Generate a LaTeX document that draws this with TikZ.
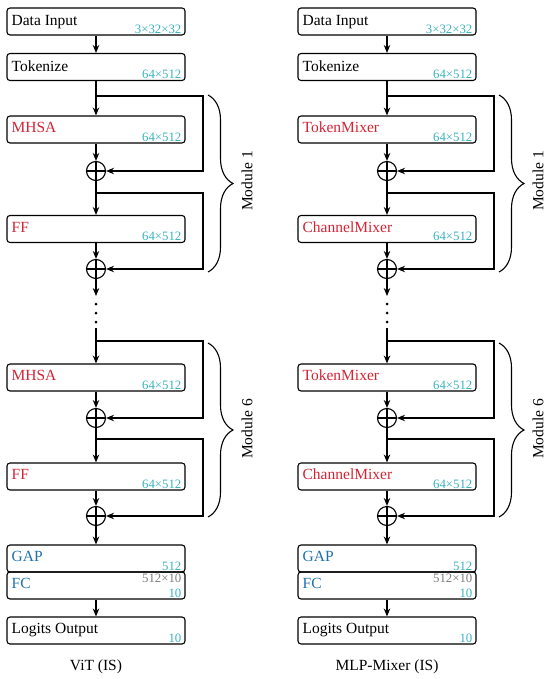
\documentclass[tikz,border=0pt]{standalone}
\usepackage{fontspec}
\setmainfont{Liberation Serif}
\usetikzlibrary{arrows.meta,decorations.pathreplacing,calc}
\definecolor{mred}{RGB}{212,36,52}
\definecolor{mblue}{RGB}{30,112,172}
\definecolor{mcyan}{RGB}{58,178,192}
\definecolor{mgray}{RGB}{125,125,125}
\tikzset{
  blk/.style={draw, line width=1.1pt, rounded corners=3pt, minimum width=178pt, minimum height=27pt, inner sep=0pt},
  nm/.style={anchor=base west, inner sep=0pt, font=\fontsize{15.5}{18}\selectfont},
  dm/.style={anchor=base east, inner sep=0pt, font=\fontsize{12.8}{14}\selectfont, text=mcyan},
  arr/.style={line width=1.1pt, -{Stealth[length=8pt,width=6.5pt]}},
  ln/.style={line width=1.1pt},
  sumn/.style={circle, draw, line width=1.1pt, minimum size=19pt, inner sep=0pt,
    path picture={\draw[line width=1.1pt] (path picture bounding box.north) -- (path picture bounding box.south)
      (path picture bounding box.west) -- (path picture bounding box.east);}},
  dotn/.style={circle, fill, minimum size=3pt, inner sep=0pt},
  brc/.style={line width=1.1pt, decorate, decoration={brace, amplitude=25pt, aspect=0.5}},
  modl/.style={rotate=90, inner sep=0pt, font=\fontsize{15.5}{18}\selectfont},
  capn/.style={inner sep=0pt, font=\fontsize{15.5}{18}\selectfont}
}
\newcommand\archcol[5]{%
\begin{scope}[xshift=#1pt]
  % boxes
  \node[blk] (#2in) at (96,21.5) {};
  \node[nm] (#2inN) at ([shift={(5,18.5)}]#2in.north west) {Data Input};
  \node[dm] (#2inD) at ([shift={(-4,-2.5)}]#2in.south east) {3×32×32};
  \node[blk] (#2tok) at (96,67) {};
  \node[nm] (#2tokN) at ([shift={(5,18.5)}]#2tok.north west) {Tokenize};
  \node[dm] (#2tokD) at ([shift={(-4,-2.5)}]#2tok.south east) {64×512};
  \node[blk] (#2ma) at (96,129.5) {};
  \node[nm, text=mred] (#2maN) at ([shift={(5,17.5)}]#2ma.north west) {#3};
  \node[dm] (#2maD) at ([shift={(-4,-2.5)}]#2ma.south east) {64×512};
  \node[sumn] (#2pa) at (96,171) {};
  \node[blk] (#2mb) at (96,229) {};
  \node[nm, text=mred] (#2mbN) at ([shift={(5,17.5)}]#2mb.north west) {#4};
  \node[dm] (#2mbD) at ([shift={(-4,-2.5)}]#2mb.south east) {64×512};
  \node[sumn] (#2pb) at (96,269) {};
  \node[dotn] (#2dA) at (96,304) {};
  \node[dotn] (#2dB) at (96,313) {};
  \node[dotn] (#2dC) at (96,322) {};
  \node[blk] (#2mc) at (96,377.5) {};
  \node[nm, text=mred] (#2mcN) at ([shift={(5,17.5)}]#2mc.north west) {#3};
  \node[dm] (#2mcD) at ([shift={(-4,-2.5)}]#2mc.south east) {64×512};
  \node[sumn] (#2pc) at (96,418) {};
  \node[blk] (#2md) at (96,476.5) {};
  \node[nm, text=mred] (#2mdN) at ([shift={(5,17.5)}]#2md.north west) {#4};
  \node[dm] (#2mdD) at ([shift={(-4,-2.5)}]#2md.south east) {64×512};
  \node[sumn] (#2pd) at (96,516) {};
  \node[blk] (#2gap) at (96,558.5) {};
  \node[nm, text=mblue] (#2gapN) at ([shift={(5,17)}]#2gap.north west) {GAP};
  \node[dm] (#2gapD) at ([shift={(-4,-2.5)}]#2gap.south east) {512};
  \node[blk] (#2fc) at (96,585.5) {};
  \node[nm, text=mblue] (#2fcN) at ([shift={(5,17)}]#2fc.north west) {FC};
  \node[dm, text=mgray] (#2fcW) at ([shift={(-4,11)}]#2fc.north east) {512×10};
  \node[dm] (#2fcD) at ([shift={(-4,-2.5)}]#2fc.south east) {10};
  \node[blk] (#2out) at (96,630.5) {};
  \node[nm] (#2outN) at ([shift={(5,17.5)}]#2out.north west) {Logits Output};
  \node[dm] (#2outD) at ([shift={(-4,-2.5)}]#2out.south east) {10};
  \node[capn] (#2cap) at (96,667) {#5};
  % branch coordinates
  \coordinate (#2ba) at (96,96);
  \coordinate (#2ra) at (203,96);
  \coordinate (#2bb) at (96,193);
  \coordinate (#2rb) at (203,193);
  \coordinate (#2dtop) at (96,296);
  \coordinate (#2dbot) at (96,328);
  \coordinate (#2bc) at (96,341);
  \coordinate (#2rc) at (203,341);
  \coordinate (#2bd) at (96,439);
  \coordinate (#2rd) at (203,439);
  % connectors
  \draw[arr] (#2in) -- (#2tok);
  \draw[arr] (#2tok) -- (#2ma);
  \draw[arr] (#2ba) -- (#2ra) |- (#2pa);
  \draw[arr] (#2ma) -- (#2pa);
  \draw[arr] (#2pa) -- (#2mb);
  \draw[arr] (#2bb) -- (#2rb) |- (#2pb);
  \draw[arr] (#2mb) -- (#2pb);
  \draw[arr] (#2pb) -- (#2dtop);
  \draw[arr] (#2dbot) -- (#2mc);
  \draw[arr] (#2bc) -- (#2rc) |- (#2pc);
  \draw[arr] (#2mc) -- (#2pc);
  \draw[arr] (#2pc) -- (#2md);
  \draw[arr] (#2bd) -- (#2rd) |- (#2pd);
  \draw[arr] (#2md) -- (#2pd);
  \draw[arr] (#2pd) -- (#2gap);
  \draw[arr] (#2fc) -- (#2out);
  % braces
  \coordinate (#2braT) at (208,95);
  \coordinate (#2braB) at (208,272);
  \coordinate (#2brbT) at (208,343);
  \coordinate (#2brbB) at (208,517);
  \draw[brc] (#2braT) -- (#2braB);
  \draw[brc] (#2brbT) -- (#2brbB);
  \node[modl] (#2modA) at (247,181) {Module 1};
  \node[modl] (#2modB) at (247,429) {Module 6};
\end{scope}}
\begin{document}
\begin{tikzpicture}[x=1pt,y=-1pt]
\useasboundingbox (0,0) rectangle (550,679);
\archcol{0}{L}{MHSA}{FF}{ViT (IS)}
\archcol{291}{R}{TokenMixer}{ChannelMixer}{MLP-Mixer (IS)}
\end{tikzpicture}
\end{document}
